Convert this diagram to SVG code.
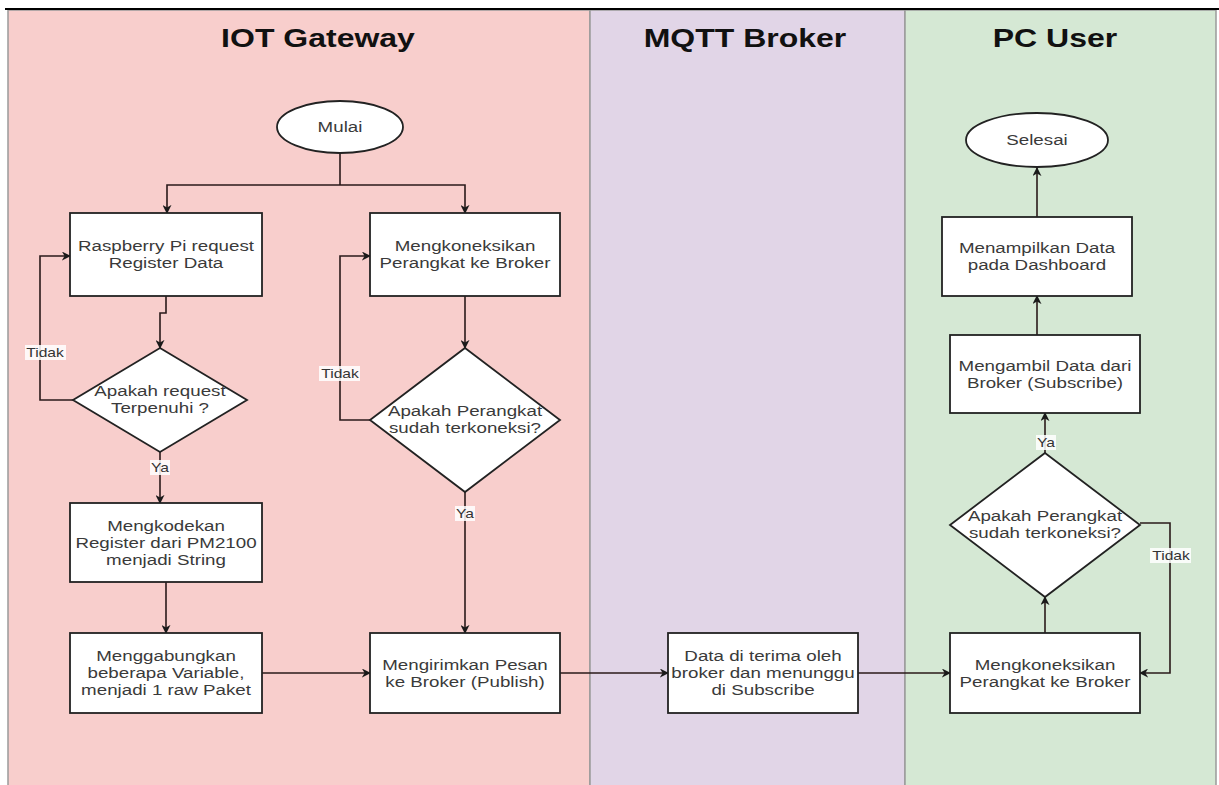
<svg xmlns="http://www.w3.org/2000/svg" width="1219" height="785" viewBox="0 0 1219 785">
<defs>
<marker id="arr" viewBox="0 0 10 10" refX="9" refY="5" markerWidth="9" markerHeight="9" markerUnits="userSpaceOnUse" orient="auto">
<path d="M0,0 L10,5 L0,10 L3,5 Z" fill="#1a1a1a"/>
</marker>
<style>
.lane{stroke:#9a9a9a;stroke-width:1.5}
.hdr{font-family:"Liberation Sans",Arial,sans-serif;font-size:25px;font-weight:bold;fill:#111;text-anchor:middle}
.box{fill:#fff;stroke:#222;stroke-width:1.8}
.t{font-family:"Liberation Sans",Arial,sans-serif;font-size:15px;fill:#3a3a3a;text-anchor:middle}
.lbl{font-family:"Liberation Sans",Arial,sans-serif;font-size:12px;fill:#333;text-anchor:middle}
.lblbg{fill:#fff;opacity:0.85}
.c{fill:none;stroke:#2a1a1a;stroke-width:1.6;marker-end:url(#arr)}
.cn{fill:none;stroke:#2a1a1a;stroke-width:1.6}
</style>
</defs>

<g id="lanes">
<rect class="lane" x="8" y="10" width="582" height="780" fill="#f8cecc"/>
<rect class="lane" x="590" y="10" width="315" height="780" fill="#e1d5e7"/>
<rect class="lane" x="905" y="10" width="311" height="780" fill="#d5e8d4"/>
<line x1="5" y1="9" x2="1219" y2="9" stroke="#000" stroke-width="2"/>
<text class="hdr" transform="translate(318,47) scale(1.28,1)">IOT Gateway</text>
<text class="hdr" transform="translate(745,47) scale(1.28,1)">MQTT Broker</text>
<text class="hdr" transform="translate(1055,47) scale(1.28,1)">PC User</text>
</g>

<g id="connectors">
<path class="cn" d="M340,153 V185"/>
<path class="c" d="M340,185 H167 V213"/>
<path class="c" d="M340,185 H465 V213"/>
<path class="c" d="M166,296 V313 H160 V348"/>
<path class="c" d="M73,400 H40 V256 H70"/>
<path class="c" d="M160,452 V503"/>
<path class="c" d="M465,296 V348"/>
<path class="c" d="M370,420 H340 V256 H370"/>
<path class="c" d="M465,492 V633"/>
<path class="c" d="M166,582 V633"/>
<path class="c" d="M262,673 H370"/>
<path class="c" d="M560,673 H668"/>
<path class="c" d="M858,673 H950"/>
<path class="c" d="M1045,633 V597"/>
<path class="c" d="M1140,523 H1170 V673 H1140"/>
<path class="c" d="M1045,453 V413"/>
<path class="c" d="M1037,335 V296"/>
<path class="c" d="M1037,217 V168"/>
<rect class="lblbg" x="25" y="345" width="41" height="15"/>
<text class="lbl" transform="translate(45,357) scale(1.3,1)">Tidak</text>
<rect class="lblbg" x="319" y="366" width="41" height="15"/>
<text class="lbl" transform="translate(340,378) scale(1.3,1)">Tidak</text>
<rect class="lblbg" x="1150" y="548" width="41" height="15"/>
<text class="lbl" transform="translate(1171,560) scale(1.3,1)">Tidak</text>
<rect class="lblbg" x="150" y="460" width="20" height="15"/>
<text class="lbl" transform="translate(160,472) scale(1.3,1)">Ya</text>
<rect class="lblbg" x="455" y="506" width="20" height="15"/>
<text class="lbl" transform="translate(465,518) scale(1.3,1)">Ya</text>
<rect class="lblbg" x="1036" y="435" width="20" height="15"/>
<text class="lbl" transform="translate(1046,447) scale(1.3,1)">Ya</text>
</g>

<g id="mulai">
<ellipse class="box" cx="340" cy="127" rx="63" ry="26"/>
<text class="t" transform="translate(340,132) scale(1.25,1)">Mulai</text>
</g>
<g id="raspberry">
<rect class="box" x="70" y="213" width="192" height="83"/>
<text class="t" transform="translate(166,251) scale(1.25,1)">Raspberry Pi request</text>
<text class="t" transform="translate(166,268) scale(1.25,1)">Register Data</text>
</g>
<g id="konek1">
<rect class="box" x="370" y="213" width="190" height="83"/>
<text class="t" transform="translate(465,251) scale(1.25,1)">Mengkoneksikan</text>
<text class="t" transform="translate(465,268) scale(1.25,1)">Perangkat ke Broker</text>
</g>
<g id="dec1">
<polygon class="box" points="160,348 247,400 160,452 73,400"/>
<text class="t" transform="translate(160,396) scale(1.25,1)">Apakah request</text>
<text class="t" transform="translate(160,413) scale(1.25,1)">Terpenuhi ?</text>
</g>
<g id="dec2">
<polygon class="box" points="465,348 560,420 465,492 370,420"/>
<text class="t" transform="translate(465,416) scale(1.25,1)">Apakah Perangkat</text>
<text class="t" transform="translate(465,433) scale(1.25,1)">sudah terkoneksi?</text>
</g>
<g id="kode">
<rect class="box" x="70" y="503" width="192" height="79"/>
<text class="t" transform="translate(166,531) scale(1.25,1)">Mengkodekan</text>
<text class="t" transform="translate(166,548) scale(1.25,1)">Register dari PM2100</text>
<text class="t" transform="translate(166,565) scale(1.25,1)">menjadi String</text>
</g>
<g id="gabung">
<rect class="box" x="70" y="633" width="192" height="80"/>
<text class="t" transform="translate(166,661) scale(1.25,1)">Menggabungkan</text>
<text class="t" transform="translate(166,678) scale(1.25,1)">beberapa Variable,</text>
<text class="t" transform="translate(166,695) scale(1.25,1)">menjadi 1 raw Paket</text>
</g>
<g id="kirim">
<rect class="box" x="370" y="633" width="190" height="80"/>
<text class="t" transform="translate(465,670) scale(1.25,1)">Mengirimkan Pesan</text>
<text class="t" transform="translate(465,687) scale(1.25,1)">ke Broker (Publish)</text>
</g>
<g id="terima">
<rect class="box" x="668" y="633" width="190" height="80"/>
<text class="t" transform="translate(763,661) scale(1.25,1)">Data di terima oleh</text>
<text class="t" transform="translate(763,678) scale(1.25,1)">broker dan menunggu</text>
<text class="t" transform="translate(763,695) scale(1.25,1)">di Subscribe</text>
</g>
<g id="konek2">
<rect class="box" x="950" y="633" width="190" height="80"/>
<text class="t" transform="translate(1045,670) scale(1.25,1)">Mengkoneksikan</text>
<text class="t" transform="translate(1045,687) scale(1.25,1)">Perangkat ke Broker</text>
</g>
<g id="dec3">
<polygon class="box" points="1045,453 1140,525 1045,597 950,525"/>
<text class="t" transform="translate(1045,521) scale(1.25,1)">Apakah Perangkat</text>
<text class="t" transform="translate(1045,538) scale(1.25,1)">sudah terkoneksi?</text>
</g>
<g id="ambil">
<rect class="box" x="950" y="335" width="190" height="78"/>
<text class="t" transform="translate(1045,371) scale(1.25,1)">Mengambil Data dari</text>
<text class="t" transform="translate(1045,388) scale(1.25,1)">Broker (Subscribe)</text>
</g>
<g id="tampil">
<rect class="box" x="942" y="217" width="190" height="79"/>
<text class="t" transform="translate(1037,253) scale(1.25,1)">Menampilkan Data</text>
<text class="t" transform="translate(1037,270) scale(1.25,1)">pada Dashboard</text>
</g>
<g id="selesai">
<ellipse class="box" cx="1037" cy="140" rx="71" ry="27"/>
<text class="t" transform="translate(1037,145) scale(1.25,1)">Selesai</text>
</g>
</svg>
